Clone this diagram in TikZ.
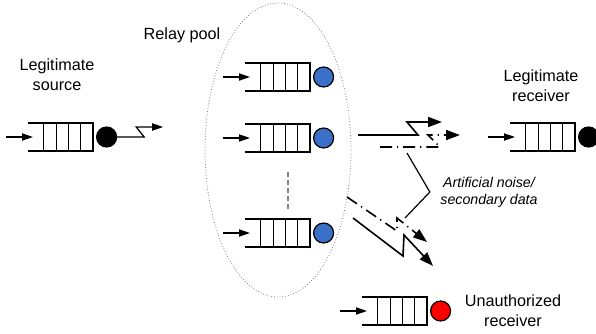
\documentclass[tikz,border=0pt]{standalone}
\usepackage{fontspec}
\setmainfont{Liberation Sans}
\usetikzlibrary{
    shapes.geometric,
    positioning,
    calc,
    arrows.meta
}
\definecolor{relayblue}{RGB}{58,112,200}
\tikzset{
  caption/.style = {
      font=\fontsize{8.1}{10}\selectfont,
      align=center,
      inner sep=0pt
  },
  note/.style = {
      caption,
      font=\fontsize{7.1}{8.4}\selectfont\itshape
  },
  server/.style = {
      circle,
      draw,
      minimum size=10pt,
      inner sep=0pt
  },
  feed/.style = {
      -{Triangle[length=5.5pt,width=3.6pt]}
  },
  bolt/.style = {
      -{Triangle[length=7pt,width=5pt]},
      line width=0.8pt
  },
  dashdot/.style = {
      dash pattern=on 6pt off 2.5pt on 0.6pt off 2.5pt
  },
  pool/.style = {
      ellipse,
      draw=gray,
      densely dotted,
      line width=0.4pt,
      minimum width=73pt,
      minimum height=147pt,
      inner sep=0pt
  },
  more/.style = {
      draw=gray,
      line width=1pt,
      dash pattern=on 2.5pt off 1.5pt
  },
  pics/buffer/.style = {
      code = {
        \draw (-65,-14) -- (0,-14) -- (0,14) -- (-65,14);
        \foreach \k in {1,...,4}
          \draw ({-12.3*\k},-14) -- ({-12.3*\k},14);
        \coordinate (-end) at (0,0);
        \coordinate (-tail) at (-87,0);
        \coordinate (-in) at (-60,0);
        \draw[feed] (-tail) -- (-in);
      }
  }
}

\begin{document}
\begin{tikzpicture}[x=0.5pt, y=-0.5pt, line width=0.6pt]
    \useasboundingbox (0,0) rectangle (596,333);
    % Relay pool
    \node[pool] (pool) at (278,150) {};
    \node[caption] (poollbl) at (182,35) {Relay pool};
    % Queues and servers
    \pic (srcq) at (93,137) {buffer};
    \node[server, fill=black, right=1.5pt of srcq-end] (src) {};
    \pic (rq1) at (310,77) {buffer};
    \node[server, fill=relayblue, right=1.5pt of rq1-end] (r1) {};
    \pic (rq2) at (310,138) {buffer};
    \node[server, fill=relayblue, right=1.5pt of rq2-end] (r2) {};
    \pic (rq3) at (310,233) {buffer};
    \node[server, fill=relayblue, right=1.5pt of rq3-end] (r3) {};
    \pic (rcvq) at (575,137) {buffer};
    \node[server, fill=black, right=1.5pt of rcvq-end] (rcv) {};
    \pic (eveq) at (427,311) {buffer};
    \node[server, fill=red, right=1.5pt of eveq-end] (eve) {};
    \draw[more] ($(rq2-end)+(-22,34)$) -- ($(rq3-end)+(-22,-23)$);
    % Labels
    \node[caption] (srclbl) at (57,75) {Legitimate\\source};
    \node[caption] (rcvlbl) at (541,86) {Legitimate\\receiver};
    \node[caption] (evelbl) at (513,311) {Unauthorized\\receiver};
    \node[note] (noise) at (489,192) {Artificial noise/\\secondary data};
    % Links
    \coordinate (up) at (358,135);
    \coordinate (upn) at (380,147);
    \coordinate (dn) at (353,218);
    \coordinate (dnn) at (347,197);
    \draw[feed] (src.east) -- ++(27,0) -- ++(-8,-10) -- ++(27,0);
    \draw[bolt] (up) -- ++(60,0) -- ++(-11,-13) -- ++(35,0);
    \draw[bolt, dashdot] (upn) -- ++(60,0) -- ++(-12,-12) -- ++(32,0);
    \draw[bolt] (dn) -- ++(50,38) -- ++(1,-21) -- ++(29,31);
    \draw[bolt, dashdot] (dnn) -- ++(50,34) -- ++(0,-13) -- ++(30,24);
    % Noise pointer
    \coordinate (nz1) at (407,153);
    \coordinate (nz2) at (405,218);
    \draw (nz1) -- ([xshift=-5pt]noise.west) -- (nz2);
\end{tikzpicture}
\end{document}
